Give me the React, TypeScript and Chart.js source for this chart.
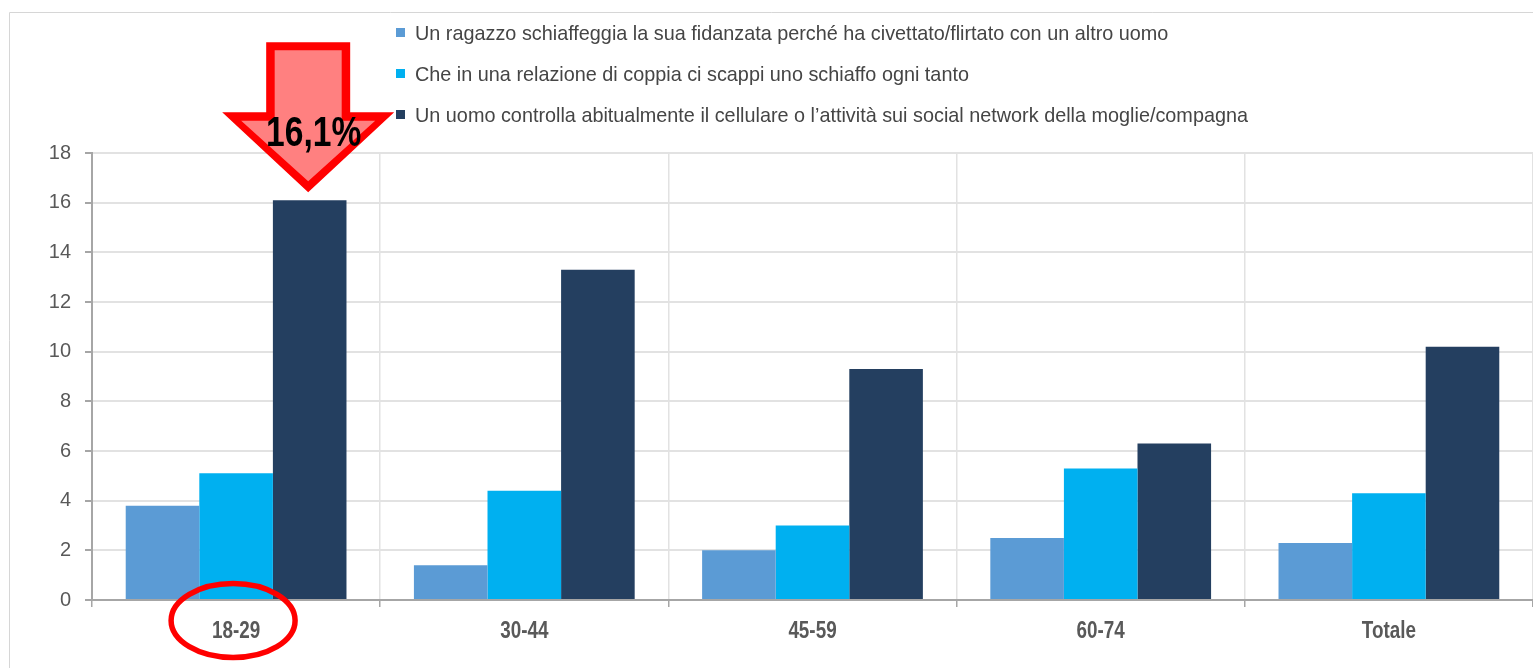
import React, { useEffect, useRef } from "react";
import { Chart, registerables } from "chart.js";

Chart.register(...registerables);

// ---- data ----
const categories = ["18-29", "30-44", "45-59", "60-74", "Totale"];
const seriesLabels = [
  "Un ragazzo schiaffeggia la sua fidanzata perché ha civettato/flirtato con un altro uomo",
  "Che in una relazione di coppia ci scappi uno schiaffo ogni tanto",
  "Un uomo controlla abitualmente il cellulare o l’attività sui social network della moglie/compagna",
];
const schiaffoFlirt = [3.8, 1.4, 2.0, 2.5, 2.3];
const schiaffoOgniTanto = [5.1, 4.4, 3.0, 5.3, 4.3];
const controlloCellulare = [16.1, 13.3, 9.3, 6.3, 10.2];
const seriesColors = ["#5B9BD5", "#00B0F0", "#243F60"];
const yMin = 0;
const yMax = 18;
const yStep = 2;
// highlighted bar (arrow) and highlighted category (ellipse)
const highlightSeries = 2;
const highlightCategory = 0;

const FONT = "'Liberation Sans', Arial, sans-serif";

const overlayPlugin = {
  id: "overlay",
  beforeDraw(chart: any) {
    const ctx = chart.ctx;
    ctx.save();
    ctx.strokeStyle = "#d6d6d6";
    ctx.lineWidth = 1;
    ctx.beginPath();
    ctx.moveTo(9.5, chart.height + 5);
    ctx.lineTo(9.5, 12.5);
    ctx.lineTo(chart.width + 5, 12.5);
    ctx.stroke();
    ctx.restore();
  },
  afterDraw(chart: any) {
    const ctx = chart.ctx;
    const xScale = chart.scales.x;
    const area = chart.chartArea;

    // ---- legend ----
    ctx.save();
    ctx.font = `21px ${FONT}`;
    const longest = Math.max(...seriesLabels.map((s) => ctx.measureText(s).width));
    const legendScale = Math.min(1, 833 / longest);
    chart.data.datasets.forEach((ds: any, i: number) => {
      const baseY = 40 + i * 41;
      ctx.fillStyle = ds.backgroundColor;
      ctx.fillRect(396, baseY - 12, 9, 9);
      ctx.save();
      ctx.translate(415, baseY);
      ctx.scale(legendScale, 1);
      ctx.fillStyle = "#454545";
      ctx.textAlign = "left";
      ctx.textBaseline = "alphabetic";
      ctx.fillText(ds.label, 0, 0);
      ctx.restore();
    });
    ctx.restore();

    // ---- x labels (condensed bold) ----
    ctx.save();
    ctx.font = `bold 23px ${FONT}`;
    ctx.fillStyle = "#595959";
    ctx.textAlign = "center";
    ctx.textBaseline = "alphabetic";
    chart.data.labels.forEach((lab: string, i: number) => {
      const cx = xScale.getPixelForValue(i);
      ctx.save();
      ctx.translate(cx, area.bottom + 38);
      ctx.scale(0.82, 1);
      ctx.fillText(lab, 0, 0);
      ctx.restore();
    });
    ctx.restore();

    // ---- ellipse around highlighted category label ----
    ctx.save();
    const ex = xScale.getPixelForValue(highlightCategory) - 3;
    const ey = area.bottom + 20.5;
    ctx.strokeStyle = "#FF0000";
    ctx.lineWidth = 5.5;
    ctx.beginPath();
    ctx.ellipse(ex, ey, 62, 37, 0, 0, Math.PI * 2);
    ctx.stroke();
    ctx.restore();

    // ---- arrow over highlighted bar ----
    const bar = chart.getDatasetMeta(highlightSeries).data[highlightCategory];
    const value = chart.data.datasets[highlightSeries].data[highlightCategory];
    const bx = bar.x - 1.5;
    const by = bar.y;
    const poly = (tipOff: number, headY: number, headHalf: number, shaftHalf: number, top: number) => {
      ctx.beginPath();
      ctx.moveTo(bx, by - tipOff);
      ctx.lineTo(bx - headHalf, by - headY);
      ctx.lineTo(bx - shaftHalf, by - headY);
      ctx.lineTo(bx - shaftHalf, by - top);
      ctx.lineTo(bx + shaftHalf, by - top);
      ctx.lineTo(bx + shaftHalf, by - headY);
      ctx.lineTo(bx + headHalf, by - headY);
      ctx.closePath();
      ctx.fill();
    };
    ctx.save();
    ctx.fillStyle = "#FF0000";
    poly(8, 88, 86, 42, 158);
    ctx.fillStyle = "#FF8080";
    poly(19, 79.5, 67, 33.5, 150);
    // label
    ctx.font = `bold 42px ${FONT}`;
    ctx.fillStyle = "#000000";
    ctx.textAlign = "center";
    ctx.textBaseline = "alphabetic";
    ctx.translate(bar.x + 4, by - 54);
    ctx.scale(0.8, 1);
    ctx.fillText(String(value).replace(".", ",") + "%", 0, 0);
    ctx.restore();
  },
};

export default function App() {
  const ref = useRef<HTMLCanvasElement | null>(null);

  useEffect(() => {
    if (!ref.current) return;
    const chart = new Chart(ref.current, {
      type: "bar",
      data: {
        labels: categories,
        datasets: [
          { label: seriesLabels[0], data: schiaffoFlirt, backgroundColor: seriesColors[0] },
          { label: seriesLabels[1], data: schiaffoOgniTanto, backgroundColor: seriesColors[1] },
          { label: seriesLabels[2], data: controlloCellulare, backgroundColor: seriesColors[2] },
        ],
      },
      options: {
        responsive: false,
        animation: false,
        devicePixelRatio: 1,
        layout: { padding: { top: 153, left: 0, right: 0, bottom: 0 } },
        datasets: {
          bar: { barPercentage: 1, categoryPercentage: 0.766, borderWidth: 0 },
        },
        plugins: {
          legend: { display: false },
          tooltip: { enabled: false },
          title: { display: false },
        },
        scales: {
          x: {
            grid: {
              offset: true,
              color: "#e2e2e2",
              lineWidth: 1.5,
              tickColor: "#a6a6a6",
              tickLength: 7,
              drawTicks: true,
            },
            border: { color: "#a6a6a6", width: 2 },
            ticks: { display: false },
            afterFit: (scale: any) => {
              scale.height = 68;
            },
          },
          y: {
            min: yMin,
            max: yMax,
            ticks: {
              stepSize: yStep,
              color: "#595959",
              padding: 14,
              font: { family: FONT, size: 20 },
            },
            grid: {
              color: "#e2e2e2",
              lineWidth: 2,
              tickColor: "#a6a6a6",
              tickLength: 7,
            },
            border: { color: "#a6a6a6", width: 2 },
            afterFit: (scale: any) => {
              scale.width = 92;
            },
          },
        },
      },
      plugins: [overlayPlugin],
    });
    return () => chart.destroy();
  }, []);

  return (
    <div style={{ position: "fixed", left: 0, top: 0, width: 1533, height: 668, background: "#ffffff" }}>
      <canvas ref={ref} width={1533} height={668} style={{ display: "block" }} />
    </div>
  );
}
